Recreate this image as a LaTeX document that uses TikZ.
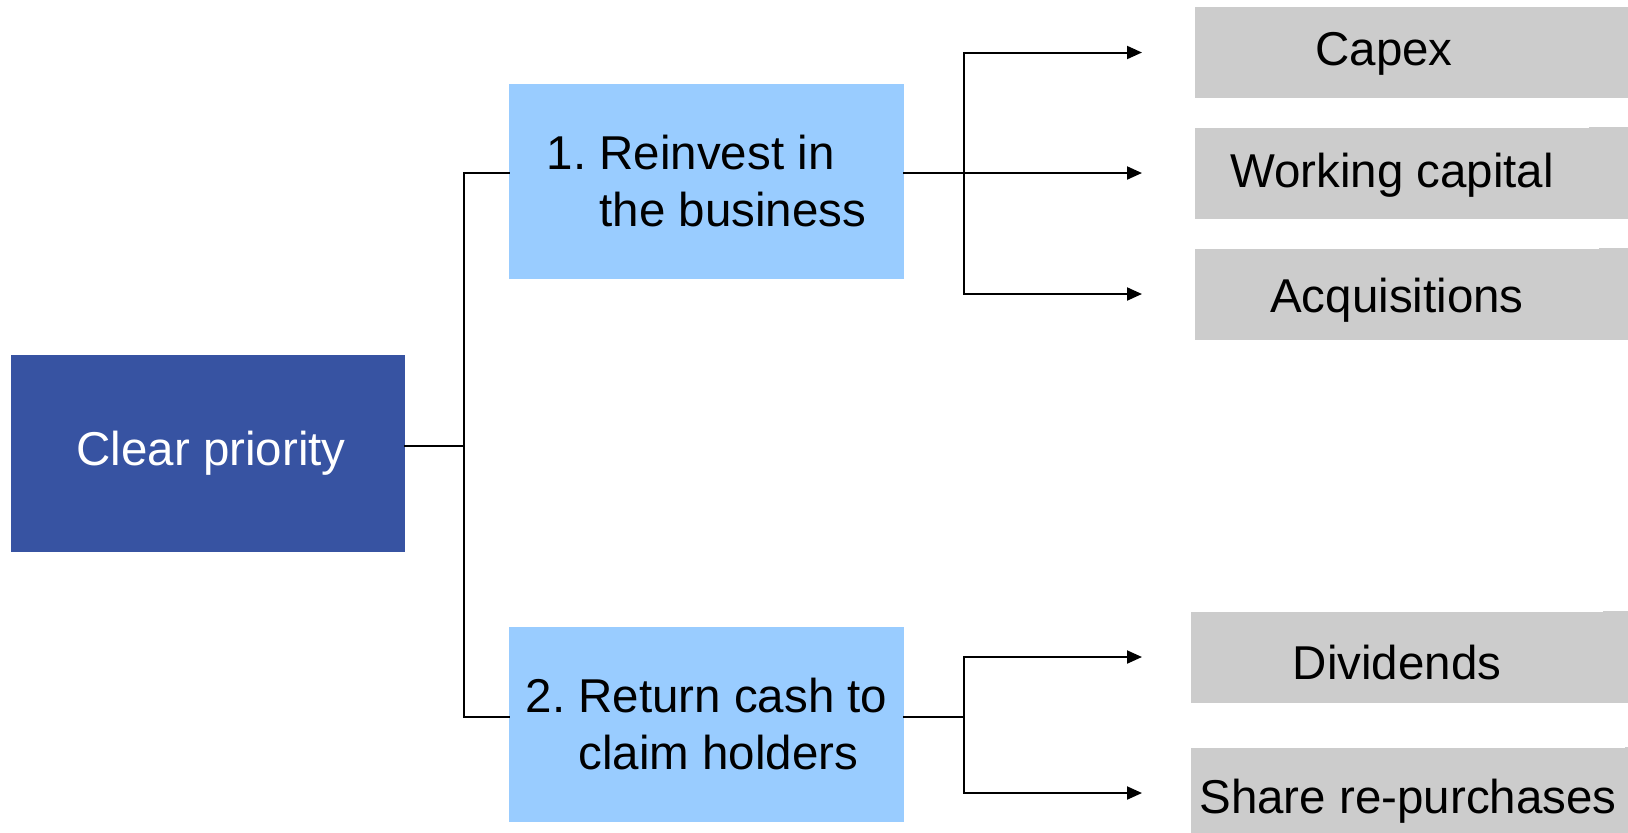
\documentclass[tikz,border=0pt]{standalone}
\usepackage{fontspec}
\setmainfont{Liberation Sans}
\usetikzlibrary{arrows.meta}
\definecolor{rootblue}{HTML}{3753A2}
\definecolor{choiceblue}{HTML}{99CCFF}
\definecolor{usegray}{HTML}{CCCCCC}
\begin{document}
\begin{tikzpicture}[
        x=0.5pt, y=-0.5pt,
        every node/.style={font=\fontsize{23.75}{28.5}\selectfont},
        rootbox/.style={fill=rootblue, text=white, minimum width=197pt,
          minimum height=98.5pt, inner sep=0pt, text height=17pt, text depth=5pt},
        choicebox/.style={fill=choiceblue, minimum width=197.5pt,
          minimum height=97.5pt, inner sep=0pt, align=left},
        usebox/.style={fill=usegray, minimum height=45.5pt, inner sep=0pt,
          text depth=0pt},
        link/.style={line width=1pt, line cap=rect},
        linkarrow/.style={link, -{Triangle[length=7.5pt, width=6.5pt]}}
      ]
      \useasboundingbox (0,0) rectangle (1628,832);
      \coordinate (edge) at (1640,0);
      \coordinate (tipline) at (1142,0);
      \node[rootbox] (prio) at (208,453.5) {\hspace*{3pt}Clear priority};
      \node[choicebox] (reinv) at (706.5,181) {1.~Reinvest in\\\phantom{1.~}the business};
      \node[choicebox] (ret) at (706.5,724.5) {2.~Return cash to\\\phantom{2.~}claim holders};
      \foreach \nm/\x/\lft/\th/\y/\txt in {%
        capex/1384/1195/12.5/52.5/Capex,
        wc/1392/1195/14/173/Working capital,
        acq/1397/1195/18/294/Acquisitions,
        div/1397/1191/22.5/657/Dividends,
        share/1408/1191/20.5/793/Share re-purchases%
      }{
        \node[usebox, minimum width={(\x-\lft)*1pt}, text height=\th pt]
          (\nm) at (\x,\y) {\txt};
        \fill[usegray] (\nm.north east) rectangle (\nm.south -| edge);
      }
      % left tree
      \coordinate (hub) at (464,446);
      \coordinate (s1) at (464,173);
      \coordinate (s2) at (464,717);
      \draw[link] (prio.east |- hub) -- (hub);
      \draw[link] (reinv.west |- s1) -- (s1) -- (s2) -- (ret.west |- s2);
      % right forks
      \coordinate (fork1) at (964,173);
      \coordinate (fork2) at (964,717);
      \draw[link] (reinv.east |- fork1) -- (fork1);
      \draw[link] (fork1 |- capex) -- (fork1 |- acq);
      \foreach \nm in {capex,wc,acq}
        \draw[linkarrow] (fork1 |- \nm) -- (tipline |- \nm);
      \draw[link] (ret.east |- fork2) -- (fork2);
      \draw[link] (fork2 |- div) -- (fork2 |- share);
      \foreach \nm in {div,share}
        \draw[linkarrow] (fork2 |- \nm) -- (tipline |- \nm);
    \end{tikzpicture}
\end{document}
